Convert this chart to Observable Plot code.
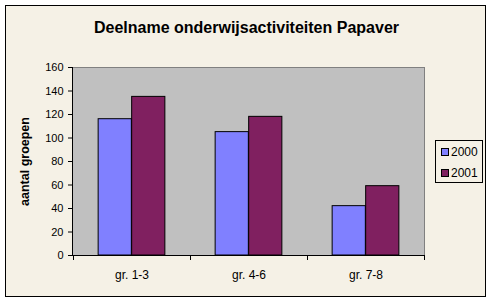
<!DOCTYPE html>
<html>
<head>
<meta charset="utf-8">
<script src="https://cdn.jsdelivr.net/npm/d3@7"></script>
<script src="https://cdn.jsdelivr.net/npm/@observablehq/plot@0.6"></script>
<style>
  html, body { margin: 0; padding: 0; background: #ffffff; }
  #wrap { position: relative; width: 493px; height: 302px; overflow: hidden; font-family: "Liberation Sans", Arial, sans-serif; }
  #panel { position: absolute; left: 5px; top: 5px; width: 481px; height: 292px; box-sizing: border-box; border: 1px solid #000; background: #f5f1e6; }
  #title { position: absolute; left: 0; width: 493px; top: 19px; text-align: center; font-size: 16px; font-weight: bold; color: #000; }
  #chart { position: absolute; left: 0; top: 0; }
  #legend { position: absolute; left: 435px; top: 140px; width: 48px; height: 43px; box-sizing: border-box; border: 1px solid #000; font-size: 12px; }
  .row { position: absolute; left: 5px; height: 14px; line-height: 14px; }
  .sw { display: inline-block; width: 6px; height: 6px; border: 1px solid #000; vertical-align: middle; margin-right: 2px; position: relative; top: -1px; }
</style>
</head>
<body>
<div id="wrap">
  <div id="panel"></div>
  <div id="title"></div>
  <div id="chart"></div>
  <div id="legend"></div>
</div>
<script>
const titleText = "Deelname onderwijsactiviteiten Papaver";
const yLabel = "aantal groepen";
const categories = ["gr. 1-3", "gr. 4-6", "gr. 7-8"];
const years = ["2000", "2001"];
const values2000 = [116, 105, 42];
const values2001 = [135, 118, 59];
const yTicks = [0, 20, 40, 60, 80, 100, 120, 140, 160];
const colors = ["#8080ff", "#802060"];

const W = 493, H = 302;
const mL = 72, mR = 69, mT = 67, mB = 47;
const bw = (W - mL - mR) / categories.length;
const barW = bw / 3.5;           // gap width 150%
const outer = barW * 0.75;

const series = [values2000, values2001];
const tables = series.map((vals, s) => categories.map((c, i) => ({cat: c, year: years[s], value: vals[i]})));

function axisLines(index, scales, values, dimensions) {
  let dims = dimensions, sc = scales;
  for (const a of arguments) {
    if (a && typeof a === "object" && "marginLeft" in a) dims = a;
    if (a && typeof a === "object" && typeof a.x === "function") sc = a;
  }
  const x = sc.x;
  const bwd = typeof x.bandwidth === "function" ? x.bandwidth() : x.bandwidth;
  const y0 = dims.height - dims.marginBottom;
  const g = d3.create("svg:g").attr("stroke", "#000").attr("stroke-width", 1).attr("shape-rendering", "crispEdges");
  const edges = categories.map(c => x(c)).concat([x(categories[categories.length - 1]) + bwd]);
  for (const e of edges) {
    g.append("line").attr("x1", e).attr("x2", e).attr("y1", y0).attr("y2", y0 + 5);
  }
  g.append("line").attr("x1", dims.marginLeft).attr("x2", dims.marginLeft)
    .attr("y1", dims.marginTop).attr("y2", y0);
  g.append("line").attr("x1", dims.marginLeft).attr("x2", dims.width - dims.marginRight)
    .attr("y1", y0).attr("y2", y0);
  return g.node();
}

const chart = Plot.plot({
  width: W, height: H,
  marginLeft: mL, marginRight: mR, marginTop: mT, marginBottom: mB,
  style: { background: "transparent", fontFamily: "'Liberation Sans', Arial, sans-serif", color: "#000" },
  x: { domain: categories, padding: 0, axis: null },
  y: { domain: [0, 160], axis: null },
  marks: [
    Plot.frame({ fill: "#c0c0c0", stroke: "#808080" }),
    Plot.barY(tables[0], { x: "cat", y: "value", fill: colors[0], stroke: "#000", strokeWidth: 1,
      insetLeft: outer, insetRight: bw - outer - barW }),
    Plot.barY(tables[1], { x: "cat", y: "value", fill: colors[1], stroke: "#000", strokeWidth: 1,
      insetLeft: outer + barW, insetRight: outer }),
    Plot.axisY({ ticks: yTicks, tickSize: 4, tickPadding: 5, fontSize: 11, label: null, stroke: "#000" }),
    Plot.axisX({ tickSize: 0, tickPadding: 15, fontSize: 12, label: null }),
    axisLines,
    Plot.text([yLabel], { frameAnchor: "left", textAnchor: "middle", dx: -48, rotate: -90, fontSize: 12.5, fontWeight: "bold", text: d => d })
  ]
});
document.getElementById("chart").appendChild(chart);
document.getElementById("title").textContent = titleText;

const legend = document.getElementById("legend");
years.forEach((yr, i) => {
  const row = document.createElement("div");
  row.className = "row";
  row.style.top = (4 + i * 21) + "px";
  const sw = document.createElement("span");
  sw.className = "sw";
  sw.style.background = colors[i];
  row.appendChild(sw);
  row.appendChild(document.createTextNode(yr));
  legend.appendChild(row);
});
</script>
</body>
</html>
